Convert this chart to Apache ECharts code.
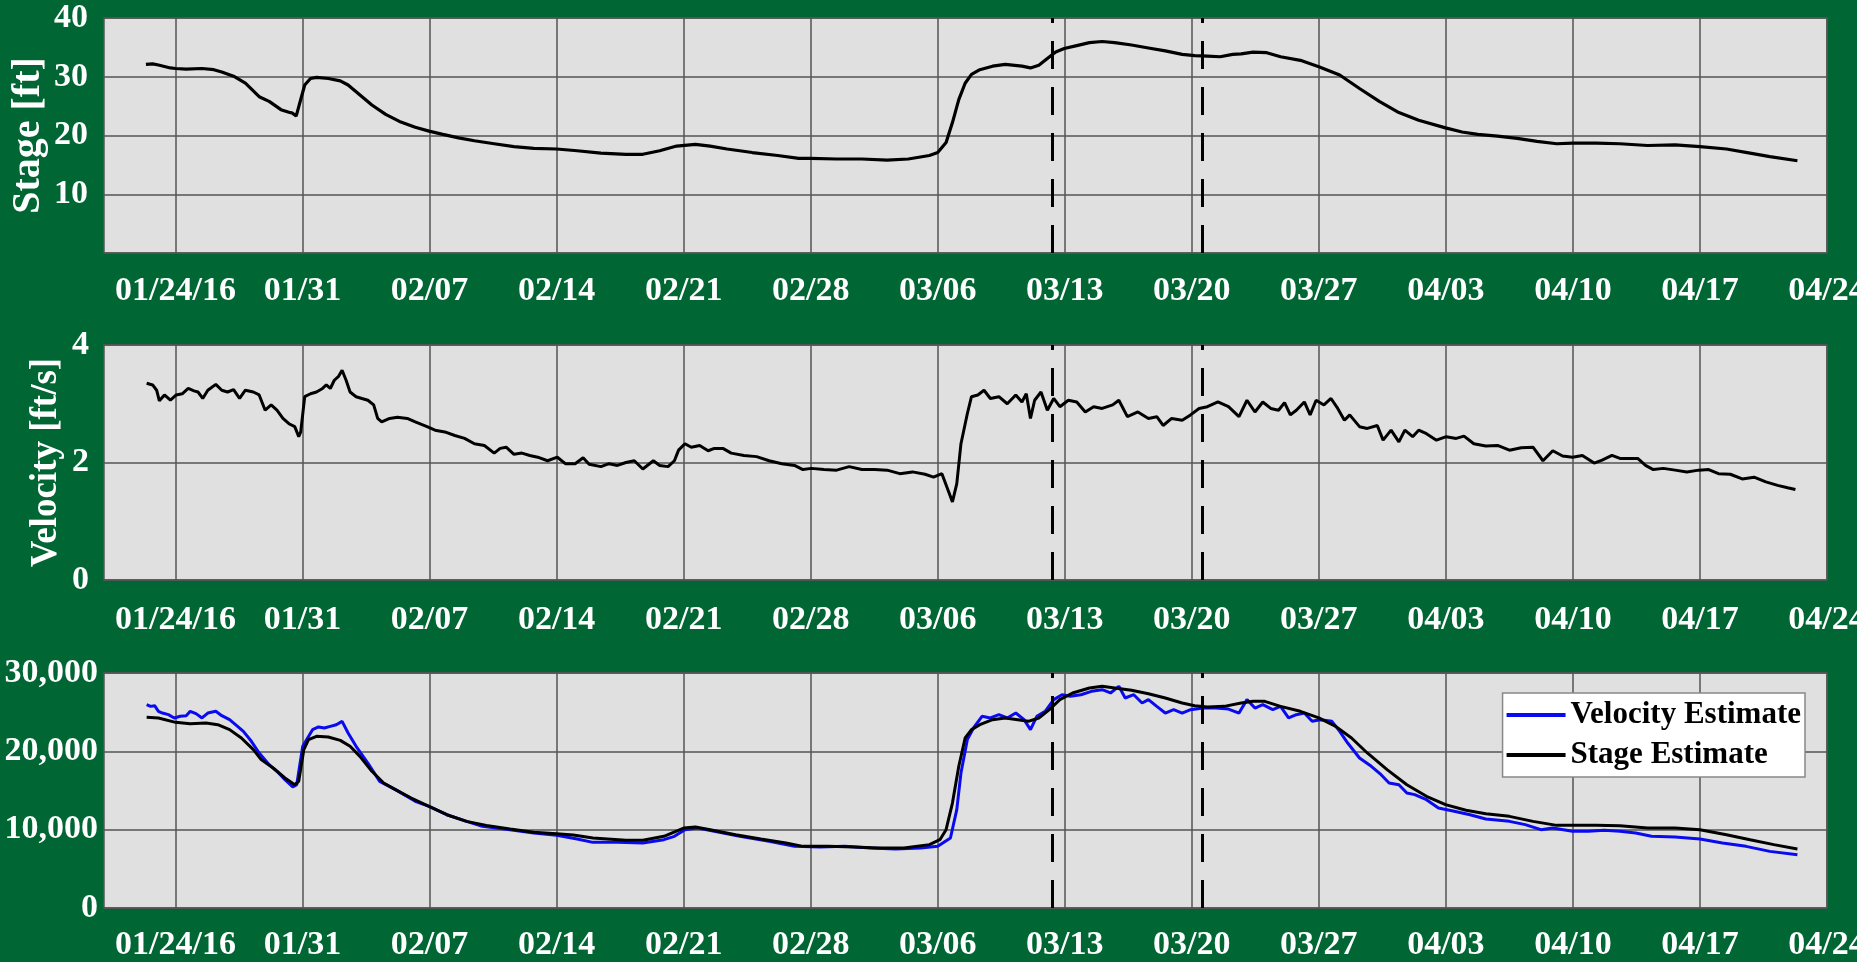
<!DOCTYPE html>
<html><head><meta charset="utf-8">
<script src="https://cdn.jsdelivr.net/npm/echarts@6/dist/echarts.min.js"></script>
<style>html,body{margin:0;padding:0;background:#006633;}#c{width:1857px;height:962px;}</style>
</head><body><div id="c"></div>
<script>
// x values are days since 01/24/2016
const xTickDays = [0,7,14,21,28,35,42,49,56,63,70,77,84,91];
const xTickLabels = ['01/24/16','01/31','02/07','02/14','02/21','02/28','03/06','03/13','03/20','03/27','04/03','04/10','04/17','04/24'];
const dashDays = [48.32, 56.58];

const stageDays = [-1.63,-1.26,-0.94,-0.28,0,0.59,1.46,2.11,2.55,3.2,3.85,4.61,5.16,5.81,6.25,6.45,6.65,6.8,7.12,7.44,7.77,8.42,9.08,9.51,10.05,10.82,11.58,12.34,13.21,13.97,14.73,15.6,16.47,17.56,18.65,19.74,21.0,22.13,23.44,
 24.82,25.75,26.68,27.61,28.65,29.46,30.39,31.78,33.18,34.34,34.99,36.43,37.82,39.21,40.38,41.54,42.0,42.46,42.81,43.16,43.51,43.86,44.32,45.02,45.72,46.64,47.11,47.57,48.04,48.5,48.97,49.66,50.36,51.06,51.75,52.68,53.61,54.54,55.47,56.16,56.86,57.56,58.25,
 58.72,59.37,60.13,60.89,61.98,63,64.15,65.24,66.33,67.41,68.5,69.98,70.89,71.76,72.85,73.93,75.02,76.11,76.98,78.28,79.59,81.11,82.63,84.0,85.46,86.76,87.85,89.37];
const stageValues = [32.1,32.2,32.0,31.5,31.4,31.3,31.4,31.2,30.8,30.1,28.9,26.6,25.8,24.4,23.95,23.8,23.3,25.0,28.6,29.7,29.9,29.7,29.3,28.6,27.2,25.2,23.6,22.4,21.4,20.75,20.2,19.6,19.1,18.6,18.1,17.8,17.7,17.4,17.0,
 16.8,16.8,17.4,18.2,18.5,18.2,17.7,17.1,16.6,16.1,16.1,16.0,16.0,15.8,16.0,16.6,17.1,18.8,22.2,26.1,28.9,30.4,31.2,31.8,32.1,31.8,31.5,31.96,33.1,34.2,34.8,35.3,35.8,36.0,35.8,35.4,34.9,34.4,33.8,33.6,33.5,33.4,33.8,
 33.9,34.2,34.1,33.4,32.8,31.7,30.3,28.0,25.8,23.9,22.6,21.3,20.6,20.2,19.9,19.5,19.0,18.6,18.7,18.7,18.6,18.3,18.4,18.1,17.7,17.0,16.4,15.7];

const velDays = [-1.59,-1.26,-1.04,-0.89,-0.61,-0.28,0.04,0.37,0.70,1.02,1.24,1.50,1.78,2.22,2.55,2.87,3.20,3.53,3.85,4.29,4.61,4.94,5.27,5.59,5.92,6.25,6.57,6.79,6.90,7.12,7.44,7.77,8.10,8.31,8.53,8.75,8.97,9.18,9.40,9.62,9.95,10.27,10.60,10.92,11.14,11.36,11.80,12.23,12.77,13.21,13.86,14.30,14.84,15.39,15.93,16.47,17.02,17.56,17.89,18.22,18.65,19.09,19.52,19.96,20.50,21.04,21.48,22.02,22.46,22.79,23.44,
 23.89,24.35,24.82,25.28,25.75,26.33,26.68,27.14,27.49,27.72,28.07,28.42,28.88,29.35,29.69,30.16,30.62,31.32,32.02,32.71,33.41,34.11,34.57,35.04,35.73,36.43,37.12,37.82,38.52,39.21,39.91,40.61,41.30,41.77,42.23,42.58,42.81,43.05,43.28,43.63,43.86,44.21,44.55,44.90,45.37,45.83,46.30,46.64,46.88,47.11,47.34,47.69,48.04,48.39,48.73,49.20,49.66,50.13,50.59,51.06,51.64,51.98,52.45,53.03,53.61,54.07,54.42,54.89,55.47,55.93,56.40,56.86,57.44,58.02,58.60,
 59.04,59.48,59.91,60.35,60.78,61.11,61.43,61.76,62.20,62.52,62.85,63.28,63.67,64.04,64.41,64.70,65.24,65.67,66.22,66.54,66.98,67.41,67.74,68.17,68.50,68.93,69.48,70.02,70.57,71.0,71.54,72.20,72.85,73.50,74.15,74.80,75.35,75.89,76.43,76.98,77.52,78.17,78.61,79.15,79.59,80.13,80.57,81.0,81.43,81.98,82.63,83.28,83.93,84.48,85.02,85.67,86.33,86.98,87.63,88.28,88.83,89.26];
const velValues = [3.35,3.32,3.23,3.05,3.15,3.06,3.15,3.17,3.26,3.22,3.20,3.09,3.23,3.33,3.23,3.20,3.24,3.09,3.23,3.20,3.15,2.89,2.98,2.89,2.75,2.66,2.61,2.44,2.52,3.12,3.17,3.20,3.26,3.32,3.26,3.40,3.46,3.57,3.40,3.20,3.12,3.09,3.06,2.98,2.75,2.69,2.75,2.77,2.75,2.69,2.61,2.55,2.52,2.46,2.41,2.32,2.29,2.16,2.24,2.26,2.14,2.16,2.12,2.09,2.03,2.09,1.98,1.98,2.08,1.97,1.93,
 1.98,1.95,2.00,2.03,1.89,2.03,1.95,1.93,2.03,2.21,2.32,2.26,2.29,2.20,2.24,2.24,2.16,2.12,2.10,2.03,1.98,1.95,1.88,1.90,1.88,1.87,1.93,1.88,1.88,1.87,1.81,1.84,1.80,1.75,1.81,1.52,1.33,1.64,2.32,2.83,3.12,3.15,3.23,3.09,3.12,3.00,3.15,3.03,3.17,2.75,3.06,3.20,2.89,3.09,2.95,3.06,3.03,2.86,2.95,2.92,2.98,3.06,2.78,2.86,2.75,2.78,2.63,2.75,2.72,2.81,2.92,2.95,3.03,2.95,2.78,
 3.06,2.86,3.03,2.92,2.89,3.02,2.81,2.89,3.03,2.81,3.06,2.98,3.09,2.92,2.72,2.81,2.61,2.58,2.63,2.38,2.55,2.35,2.55,2.44,2.55,2.49,2.38,2.44,2.41,2.45,2.32,2.28,2.29,2.21,2.25,2.26,2.03,2.20,2.11,2.09,2.12,1.99,2.04,2.12,2.07,2.07,2.07,1.95,1.88,1.90,1.87,1.84,1.87,1.88,1.81,1.80,1.72,1.75,1.67,1.61,1.57,1.54];

const qStageDays = [-1.59,-0.94,0,0.81,1.68,2.33,2.98,3.63,4.29,4.72,5.38,6.03,6.57,6.79,7.07,7.33,7.77,8.42,9.08,9.62,10.16,10.82,11.47,12.12,12.99,13.97,14.95,16.04,17.13,18.43,19.74,21.0,21.92,23.0,
 24.82,25.75,26.91,28.0,28.65,29.46,30.86,32.25,33.64,34.57,35.96,37.36,38.75,40.14,41.54,42.12,42.46,42.81,43.16,43.51,43.86,44.32,45.02,45.72,46.41,46.99,47.57,48.15,48.73,49.43,50.36,51.06,51.75,52.68,53.61,54.54,55.47,56.16,56.86,57.79,58.72,
 59.37,60.02,60.89,61.98,63.0,63.93,64.80,65.67,66.76,67.85,68.93,69.98,71.11,72.20,73.50,74.80,76.11,76.98,78.28,79.59,81.11,82.63,84.0,85.46,86.76,88.07,89.37];
const qStageValues = [24340,24255,23700,23530,23620,23400,22770,21700,20210,18940,17870,16600,15740,16170,20210,21490,21910,21830,21400,20640,19360,17450,15960,15110,14040,12980,11910,11060,10550,10090,9660,9490,9320,8940,
 8640,8640,9150,10210,10340,10000,9360,8810,8300,7870,7870,7790,7660,7660,8090,8720,10000,13400,18090,21700,22770,23400,24040,24260,24040,23830,24260,25320,26600,27450,28090,28300,28090,27790,27360,26810,26170,25830,25660,25740,26170,
 26380,26380,25740,25110,24260,23190,21700,19790,17660,15740,14260,13190,12470,12040,11700,11060,10550,10550,10550,10510,10210,10210,10000,9360,8720,8090,7530];

const qVelDays = [-1.59,-1.37,-1.15,-0.94,-0.72,-0.39,-0.07,0.26,0.59,0.81,1.13,1.46,1.78,2.22,2.55,2.98,3.42,3.74,4.18,4.61,5.16,5.59,6.03,6.46,6.68,7.01,7.55,7.88,8.20,8.53,8.86,9.18,9.51,9.95,10.60,11.25,12.12,13.21,13.97,14.95,16.04,16.91,18.43,19.74,21.0,22.13,23.0,
 24.35,25.75,26.91,27.49,28.07,28.77,29.69,31.09,32.71,34.11,35.50,36.89,38.29,39.68,41.07,42.0,42.70,43.05,43.28,43.63,43.97,44.44,44.90,45.37,45.83,46.30,46.76,47.11,47.46,47.92,48.39,48.85,49.31,49.89,50.47,51.06,51.52,51.98,52.33,52.80,53.26,53.61,54.07,54.54,55.0,55.47,55.93,56.63,57.32,58.02,58.60,
 59.04,59.48,59.91,60.46,60.89,61.33,61.76,62.20,62.63,63.07,63.72,64.15,64.59,65.24,65.89,66.43,66.87,67.41,67.85,68.28,68.93,69.59,70.46,71.33,72.20,73.50,74.37,75.24,75.89,76.98,77.85,78.72,79.59,80.46,81.33,82.63,84.0,85.24,86.54,87.85,89.37];
const qVelValues = [25960,25740,25830,25110,24890,24680,24260,24470,24550,25110,24810,24260,24890,25110,24550,24040,23190,22550,21280,19790,18300,17450,16380,15450,15740,20640,22770,23110,22980,23190,23400,23830,22340,20640,18510,16170,15110,13620,12980,11910,11060,10430,10000,9570,9280,8810,8380,
 8380,8300,8720,9150,10000,10210,9790,9150,8510,7870,7790,7870,7660,7530,7660,7870,8940,12550,17230,21490,22980,24470,24260,24680,24260,24890,24040,22770,24470,25110,26600,27230,27020,27230,27660,27870,27450,28300,26810,27230,26170,26600,25740,24890,25320,24890,25320,25530,25530,25400,24890,
 26600,25530,25960,25320,25740,24260,24680,24890,23830,24040,23830,22550,21060,19150,18090,17020,15960,15740,14680,14470,13830,12770,12340,11910,11360,11060,10640,10000,10210,9790,9790,9910,9790,9570,9150,9060,8810,8300,7870,7230,6810];

const FONT = "'Liberation Serif','Times New Roman',serif";
const GRIDC = '#555555';
function pairs(d, v) { return d.map((x, i) => [x, v[i]]); }
function xAxisFor(i, margin) {
  return {
    type: 'value', gridIndex: i, min: -3.94, max: 91,
    axisLine: { show: false },
    axisTick: { show: false, customValues: xTickDays },
    axisLabel: { customValues: xTickDays, margin: margin, color: '#fff', fontFamily: FONT, fontWeight: 'bold', fontSize: 34,
      formatter: v => { const k = xTickDays.indexOf(v); return k >= 0 ? xTickLabels[k] : ''; } },
    splitLine: { show: true, lineStyle: { color: GRIDC, width: 1.5 } }
  };
}
function yAxisFor(i, min, max, interval, margin, fmt, name, nameGap, nameSize) {
  const a = {
    type: 'value', gridIndex: i, min: min, max: max, interval: interval,
    axisLine: { show: false }, axisTick: { show: false },
    axisLabel: { margin: margin, color: '#fff', fontFamily: FONT, fontWeight: 'bold', fontSize: 34, padding: [5, 0, 0, 0], formatter: fmt },
    splitLine: { show: true, lineStyle: { color: GRIDC, width: 1.5 } }
  };
  if (name) {
    a.name = name; a.nameLocation = 'middle'; a.nameGap = nameGap; a.nameMoveOverlap = false;
    a.nameTextStyle = { color: '#fff', fontFamily: FONT, fontWeight: 'bold', fontSize: nameSize };
  }
  return a;
}
const gridBase = { left: 104, width: 1723, height: 235, show: true, backgroundColor: '#e0e0e0', borderColor: GRIDC, borderWidth: 1.5, containLabel: false, outerBoundsMode: 'none' };
const dashMark = {
  silent: true, symbol: ['none', 'none'], label: { show: false },
  lineStyle: { color: '#000', width: 3, type: [28, 18] },
  data: dashDays.map(d => ({ xAxis: d }))
};
const chart = echarts.init(document.getElementById('c'), null, { renderer: 'canvas' });
chart.setOption({
  backgroundColor: '#006633',
  animation: false,
  grid: [
    Object.assign({}, gridBase, { top: 18 }),
    Object.assign({}, gridBase, { top: 345 }),
    Object.assign({}, gridBase, { top: 673 })
  ],
  xAxis: [xAxisFor(0, 21), xAxisFor(1, 23), xAxisFor(2, 20)],
  yAxis: [
    yAxisFor(0, 0, 40, 10, 16, v => v === 0 ? '' : String(v), 'Stage [ft]', 55, 40),
    yAxisFor(1, 0, 4, 2, 15, v => String(v), 'Velocity [ft/s]', 39, 37),
    yAxisFor(2, 0, 30000, 10000, 6, v => v.toLocaleString('en-US'), null, 0, 0)
  ],
  legend: {
    right: 52, top: 693, orient: 'vertical', selectedMode: false,
    backgroundColor: '#ffffff', borderColor: '#888', borderWidth: 1.5, borderRadius: 0,
    padding: [5, 4, 5, 4], itemGap: 6, itemWidth: 59, itemHeight: 4,
    textStyle: { color: '#000', fontFamily: FONT, fontWeight: 'bold', fontSize: 31, lineHeight: 34 },
    data: [{ name: 'Velocity Estimate', icon: 'rect' }, { name: 'Stage Estimate', icon: 'rect' }]
  },
  series: [
    { name: 'Stage', type: 'line', xAxisIndex: 0, yAxisIndex: 0, showSymbol: false, symbol: 'none',
      lineStyle: { color: '#000', width: 3.2 }, itemStyle: { color: '#000' }, data: pairs(stageDays, stageValues), markLine: dashMark },
    { name: 'Velocity', type: 'line', xAxisIndex: 1, yAxisIndex: 1, showSymbol: false, symbol: 'none',
      lineStyle: { color: '#000', width: 3 }, itemStyle: { color: '#000' }, data: pairs(velDays, velValues), markLine: dashMark },
    { name: 'Velocity Estimate', type: 'line', xAxisIndex: 2, yAxisIndex: 2, showSymbol: false, symbol: 'none',
      lineStyle: { color: '#0a0af0', width: 3 }, itemStyle: { color: '#0a0af0' }, data: pairs(qVelDays, qVelValues) },
    { name: 'Stage Estimate', type: 'line', xAxisIndex: 2, yAxisIndex: 2, showSymbol: false, symbol: 'none',
      lineStyle: { color: '#000', width: 3 }, itemStyle: { color: '#000' }, data: pairs(qStageDays, qStageValues), markLine: dashMark }
  ]
});
</script>
</body></html>
